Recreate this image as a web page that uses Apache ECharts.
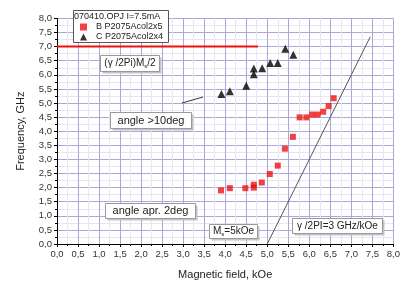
<!DOCTYPE html>
<html><head><meta charset="utf-8">
<script src="https://cdn.jsdelivr.net/npm/echarts@6/dist/echarts.min.js"></script>
<style>html,body{margin:0;padding:0;background:#fff}#c{width:403px;height:285px}</style>
</head><body><div id="c"></div>
<script>
// Series B (red squares)
const bField = [3.90,4.11,4.48,4.68,4.68,4.87,5.06,5.25,5.42,5.61,5.77,5.93,6.07,6.20,6.33,6.46,6.58];
const bFreq  = [1.90,1.98,1.98,2.10,2.00,2.18,2.48,2.78,3.38,3.80,4.49,4.49,4.59,4.59,4.69,4.89,5.17];
// Series C (black triangles)
const cField = [3.91,4.11,4.50,4.68,4.68,4.88,5.07,5.25,5.43,5.62];
const cFreq  = [5.32,5.42,5.61,6.02,6.22,6.23,6.42,6.42,6.92,6.71];
// Reference lines
const msHalfX = [0, 4.78];
const msHalfY = [7.0, 7.0];
const gammaX = [5.0, 7.45];
const gammaY = [0, 7.35];
const seriesNames = ['B P2075Acol2x5', 'C P2075Acol2x4'];
const legendTitle = '070410.OPJ I=7.5mA';

const zip = (a, b) => a.map((v, i) => [v, b[i]]);
const fmt = v => v.toFixed(1).replace('.', ',');
const font = '"Liberation Sans", Arial, sans-serif';

const chart = echarts.init(document.getElementById('c'));
function box(x, y, w, h, rich, text, fs) {
  return {
    type: 'group', left: x, top: y, z: 10, children: [
      { type: 'rect', shape: { x: 2, y: 2, width: w, height: h }, style: { fill: '#c4c4c4' }, z: 10 },
      { type: 'rect', shape: { x: 0, y: 0, width: w, height: h }, style: { fill: '#fff', stroke: '#999', lineWidth: 1 }, z: 11 },
      { type: 'text', x: w / 2, y: h / 2, z: 12, style: { text: text, rich: rich, align: 'center', verticalAlign: 'middle', fontFamily: font, fontSize: fs, fill: '#222' } }
    ]
  };
}
const subRich = {
  n: { fontSize: 10, fontFamily: font, fill: '#222' },
  s: { fontSize: 6, fontFamily: font, fill: '#222', verticalAlign: 'bottom', padding: [6, 0, 0, 0] }
};
const option = {
  animation: false,
  grid: { left: 57, right: 6, top: 18.4, bottom: 37 },
  xAxis: {
    type: 'value', min: 0, max: 8, interval: 0.5,
    name: 'Magnetic field, kOe', nameLocation: 'middle', nameGap: 25,
    nameTextStyle: { fontFamily: font, fontSize: 11, color: '#222' },
    axisLine: { show: true, lineStyle: { color: '#000', width: 1 } },
    axisTick: { show: true, inside: false, length: 3, lineStyle: { color: '#000' } },
    minorTick: { show: true, splitNumber: 2, length: 2, lineStyle: { color: '#000' } },
    axisLabel: { formatter: fmt, fontFamily: font, fontSize: 9.5, color: '#333', margin: 5 },
    splitLine: { show: true, lineStyle: { color: '#a8a8dc', width: 1 } },
    minorSplitLine: { show: true, lineStyle: { color: '#e6e6f4', width: 1 } }
  },
  yAxis: {
    type: 'value', min: 0, max: 8, interval: 0.5,
    name: 'Frequency, GHz', nameLocation: 'middle', nameGap: 31,
    nameTextStyle: { fontFamily: font, fontSize: 11, color: '#222' },
    axisLine: { show: true, lineStyle: { color: '#000', width: 1 } },
    axisTick: { show: true, inside: false, length: 3, lineStyle: { color: '#000' } },
    minorTick: { show: true, splitNumber: 2, length: 2, lineStyle: { color: '#000' } },
    axisLabel: { formatter: fmt, fontFamily: font, fontSize: 9.5, color: '#333', margin: 5 },
    splitLine: { show: true, lineStyle: { color: '#a8a8dc', width: 1 } },
    minorSplitLine: { show: true, lineStyle: { color: '#e6e6f4', width: 1 } }
  },
  legend: {
    orient: 'vertical', left: 80, top: 22, padding: 0, itemWidth: 7, itemHeight: 7, itemGap: 0, z: 20,
    textStyle: { fontFamily: font, fontSize: 9, lineHeight: 10, color: '#222', padding: [0, 0, 0, 4] },
    data: [{ name: seriesNames[0], icon: 'rect' }, { name: seriesNames[1], icon: 'triangle' }]
  },
  series: [
    { type: 'line', data: zip(msHalfX, msHalfY), symbol: 'none', lineStyle: { color: '#ee1111', width: 2 }, z: 3, silent: true },
    { type: 'line', data: zip(gammaX, gammaY), symbol: 'none', lineStyle: { color: '#555', width: 1 }, z: 3, silent: true },
    { name: seriesNames[0], type: 'scatter', data: zip(bField, bFreq), symbol: 'rect', symbolSize: 6, itemStyle: { color: '#ee1111' }, z: 5 },
    { name: seriesNames[1], type: 'scatter', data: zip(cField, cFreq), symbol: 'triangle', symbolSize: 8, itemStyle: { color: '#000' }, z: 5 }
  ],
  graphic: [
    { type: 'rect', left: 73, top: 10, z: 8, shape: { width: 95, height: 32 }, style: { fill: '#fff', stroke: '#555', lineWidth: 1 } },
    { type: 'text', left: 74, top: 12, z: 9, style: { text: legendTitle, fontFamily: font, fontSize: 9, fill: '#222' } },
    box(100, 55, 59, 16, subRich, '{n|(γ /2Pi)M}{s|s}{n|/2}', 10),
    box(110, 112, 81, 16, {}, 'angle >10deg', 11),
    box(105, 203, 90, 15, {}, 'angle apr. 2deg', 11),
    box(209, 224, 48, 14, subRich, '{n|M}{s|s}{n|=5kOe}', 10),
    box(292, 218, 90, 15, {}, 'γ /2PI=3 GHz/kOe', 10),
    { type: 'line', z: 12, shape: { x1: 182, y1: 103, x2: 203, y2: 97 }, style: { stroke: '#333', lineWidth: 1 } }
  ]
};
chart.setOption(option);
</script>
</body></html>
